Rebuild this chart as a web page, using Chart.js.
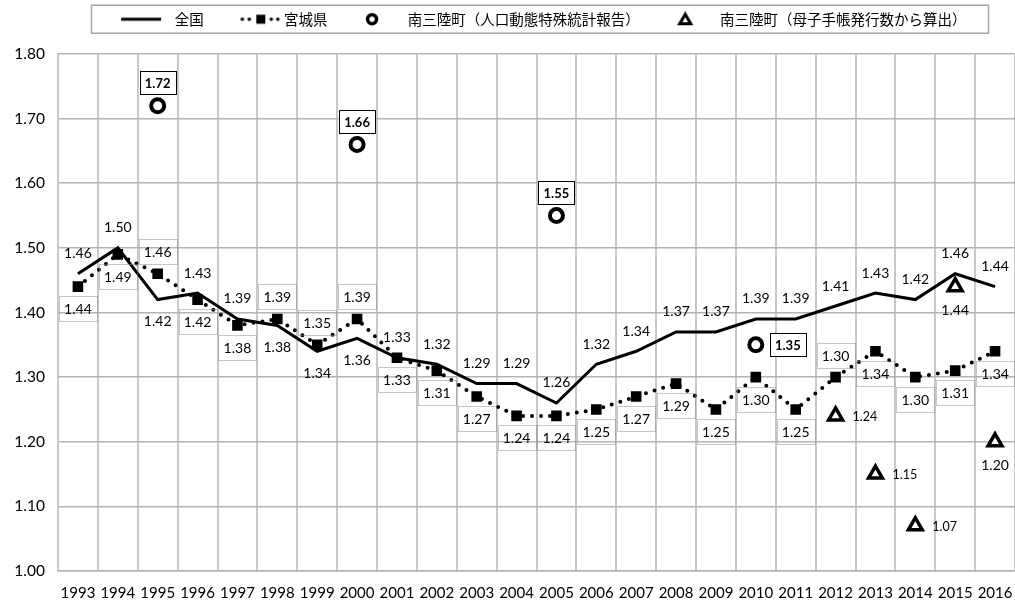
<!DOCTYPE html>
<html>
<head>
<meta charset="utf-8">
<script src="https://cdn.jsdelivr.net/npm/chart.js@4"></script>
<style>
html, body { margin: 0; padding: 0; background: #fff; }
#wrap { width: 1015px; height: 605px; }
</style>
</head>
<body>
<div id="wrap"><canvas id="myChart"></canvas></div>
<script>
const ctx = document.getElementById('myChart');

const years = ['1993', '1994', '1995', '1996', '1997', '1998', '1999', '2000', '2001', '2002', '2003', '2004',
    '2005', '2006', '2007', '2008', '2009', '2010', '2011', '2012', '2013', '2014', '2015', '2016'];

const national = [1.46, 1.50, 1.42, 1.43, 1.39, 1.38, 1.34, 1.36, 1.33, 1.32, 1.29, 1.29,
    1.26, 1.32, 1.34, 1.37, 1.37, 1.39, 1.39, 1.41, 1.43, 1.42, 1.46, 1.44];
const miyagi = [1.44, 1.49, 1.46, 1.42, 1.38, 1.39, 1.35, 1.39, 1.33, 1.31, 1.27, 1.24,
    1.24, 1.25, 1.27, 1.29, 1.25, 1.30, 1.25, 1.30, 1.34, 1.30, 1.31, 1.34];
const townVital = [null, null, 1.72, null, null, null, null, 1.66, null, null, null, null,
    1.55, null, null, null, null, 1.35, null, null, null, null, null, null];
const townHandbook = [null, null, null, null, null, null, null, null, null, null, null, null,
    null, null, null, null, null, null, null, 1.24, 1.15, 1.07, 1.44, 1.20];

// where each value label sits relative to its mark
const nationalLabelAt = ['up', 'up', 'down', 'up', 'up', 'down', 'down', 'down', 'up', 'up', 'up', 'up',
    'up', 'up', 'up', 'up', 'up', 'up', 'up', 'up', 'up', 'up', 'up', 'up'];
const miyagiLabelAt = ['down', 'down', 'up', 'down', 'down', 'up', 'up', 'up', 'down', 'down', 'down', 'down',
    'down', 'down', 'down', 'down', 'down', 'down', 'down', 'up', 'down', 'down', 'down', 'down'];
const townVitalLabelAt = [null, null, 'up', null, null, null, null, 'up', null, null, null, null,
    'up', null, null, null, null, 'right', null, null, null, null, null, null];
const townHandbookLabelAt = [null, null, null, null, null, null, null, null, null, null, null, null,
    null, null, null, null, null, null, null, 'right', 'right', 'right', 'down', 'down'];

const legendNames = ['全国', '宮城県', '南三陸町（人口動態特殊統計報告）', '南三陸町（母子手帳発行数から算出）'];

const font = 'Lato, "Noto Sans", sans-serif';
const legendShift = 29;

// legend icons: 140px wide canvases centred on the 61px legend box; text begins at x≈108
function makeIcon(draw) {
    const cv = document.createElement('canvas');
    cv.width = 140;
    cv.height = 16;
    const g = cv.getContext('2d');
    g.fillStyle = '#000';
    g.strokeStyle = '#000';
    draw(g);
    return cv;
}
const legendIcons = [
    makeIcon(g => g.fillRect(54, 6.5, 40, 3)),
    makeIcon(g => {
        [66, 73, 95, 101.5].forEach(x => { g.beginPath(); g.arc(x, 8, 1.8, 0, Math.PI * 2); g.fill(); });
        g.fillRect(80, 3.5, 9, 9);
    }),
    makeIcon(g => { g.lineWidth = 3.5; g.beginPath(); g.arc(72, 8, 4.5, 0, Math.PI * 2); g.stroke(); }),
    makeIcon(g => {
        g.lineWidth = 3; g.lineJoin = 'miter';
        g.beginPath(); g.moveTo(73, 3); g.lineTo(67.5, 12.5); g.lineTo(78.5, 12.5); g.closePath(); g.stroke();
    })
];

const valueLabels = {
    id: 'valueLabels',
    afterDatasetsDraw(chart) {
        const c = chart.ctx;
        chart.data.datasets.forEach((ds, i) => {
            const lab = ds.valueLabel;
            chart.getDatasetMeta(i).data.forEach((el, j) => {
                const v = ds.data[j];
                const where = lab.at[j];
                if (v == null || !where) return;
                let x = el.x, y = el.y;
                if (where === 'up') y -= lab.gap;
                else if (where === 'down') y += lab.gap;
                else x += lab.side;
                const text = v.toFixed(2);
                c.save();
                c.font = where === 'right' && lab.sideFont ? lab.sideFont : lab.font;
                c.textBaseline = 'middle';
                c.textAlign = 'center';
                if (lab.box === 'dotted') {
                    c.strokeStyle = '#8c8c8c';
                    c.lineWidth = 1;
                    c.setLineDash([1, 1]);
                    c.strokeRect(Math.round(x - lab.bw / 2) + 0.5, Math.round(y - lab.bh / 2) + 0.5, lab.bw, lab.bh);
                } else if (lab.box === 'solid') {
                    c.fillStyle = '#fff';
                    c.fillRect(x - lab.bw / 2, y - lab.bh / 2, lab.bw, lab.bh);
                    c.strokeStyle = '#000';
                    c.lineWidth = 1;
                    c.strokeRect(Math.round(x - lab.bw / 2) + 0.5, Math.round(y - lab.bh / 2) + 0.5, lab.bw, lab.bh);
                } else if (where === 'right') {
                    c.textAlign = 'left';
                }
                c.fillStyle = '#000';
                c.fillText(text, x, y + 1);
                c.restore();
            });
        });
    }
};

const legendFrame = {
    id: 'legendFrame',
    beforeUpdate(chart) {
        const lg = chart.legend;
        if (lg && !lg._patched) {
            const fit = lg.fit;
            lg.fit = function () { fit.call(this); this.height = 54; };
            const draw = lg.draw;
            lg.draw = function (area) {
                this.ctx.save();
                this.ctx.translate(legendShift, 0);
                draw.call(this, area);
                this.ctx.restore();
            };
            lg._patched = true;
        }
    },
    afterDraw(chart) {
        const boxes = chart.legend.legendHitBoxes;
        if (!boxes || !boxes.length) return;
        const first = boxes[0], last = boxes[boxes.length - 1];
        const left = first.left + legendShift - 15;
        const right = last.left + last.width + legendShift + 22;
        const cy = first.top + first.height / 2;
        const c = chart.ctx;
        c.save();
        c.strokeStyle = '#a6a6a6';
        c.lineWidth = 1.5;
        c.strokeRect(left, cy - 14, right - left, 28);
        c.restore();
    }
};

new Chart(ctx, {
    type: 'line',
    data: {
        labels: years,
        datasets: [{
            label: legendNames[0],
            data: national,
            borderColor: '#000',
            borderWidth: 3,
            pointRadius: 0,
            tension: 0,
            valueLabel: { at: nationalLabelAt, gap: 21, font: '14px ' + font }
        }, {
            label: legendNames[1],
            data: miyagi,
            borderColor: '#000',
            borderWidth: 4,
            borderDash: [0, 9],
            borderCapStyle: 'round',
            pointStyle: 'rect',
            pointRadius: 7.5,
            pointBorderWidth: 0,
            pointBackgroundColor: '#000',
            tension: 0,
            valueLabel: { at: miyagiLabelAt, gap: 22, font: '14px ' + font, box: 'dotted', bw: 38, bh: 25 }
        }, {
            label: legendNames[2],
            data: townVital,
            showLine: false,
            pointStyle: 'circle',
            pointRadius: 6.5,
            pointBorderWidth: 4,
            pointBorderColor: '#000',
            pointBackgroundColor: '#fff',
            valueLabel: { at: townVitalLabelAt, gap: 23, side: 32, font: 'bold 13px ' + font, box: 'solid', bw: 36, bh: 23 }
        }, {
            label: legendNames[3],
            data: townHandbook,
            showLine: false,
            pointStyle: 'triangle',
            pointRadius: 8,
            pointBorderWidth: 3.5,
            pointBorderColor: '#000',
            pointBackgroundColor: '#fff',
            valueLabel: { at: townHandbookLabelAt, gap: 23, side: 17, font: '14px ' + font, sideFont: '12.5px ' + font }
        }]
    },
    options: {
        responsive: true,
        maintainAspectRatio: false,
        animation: false,
        layout: { padding: 0, autoPadding: false },
        plugins: {
            tooltip: { enabled: false },
            legend: {
                position: 'top',
                labels: {
                    usePointStyle: true,
                    pointStyleWidth: 61,
                    padding: 12,
                    color: '#000',
                    font: { family: '"Noto Sans CJK JP", sans-serif', size: 14.5 },
                    generateLabels: chart => chart.data.datasets.map((ds, i) => ({
                        text: ds.label,
                        pointStyle: legendIcons[i],
                        datasetIndex: i,
                        hidden: false,
                        lineWidth: 0,
                        fillStyle: '#000',
                        strokeStyle: '#000',
                        fontColor: '#000'
                    }))
                }
            }
        },
        scales: {
            x: {
                offset: true,
                grid: { offset: true, color: '#c8c8c8', lineWidth: 2, drawTicks: false },
                border: { color: '#b4b4b4', width: 1.5 },
                ticks: { color: '#000', font: { family: font, size: 15 }, padding: 13, maxRotation: 0, autoSkip: false },
                afterFit: s => { s.height = 34; s.paddingLeft = 0; s.paddingRight = 0; }
            },
            y: {
                min: 1,
                max: 1.8,
                grid: { color: '#b4b4b4', lineWidth: 1.5, drawTicks: false },
                border: { color: '#c8c8c8', width: 2 },
                ticks: {
                    stepSize: 0.1,
                    padding: 13,
                    color: '#000',
                    font: { family: font, size: 15.5 },
                    callback: v => v.toFixed(2)
                },
                afterFit: s => { s.width = 58; }
            }
        }
    },
    plugins: [valueLabels, legendFrame]
});
</script>
</body>
</html>
